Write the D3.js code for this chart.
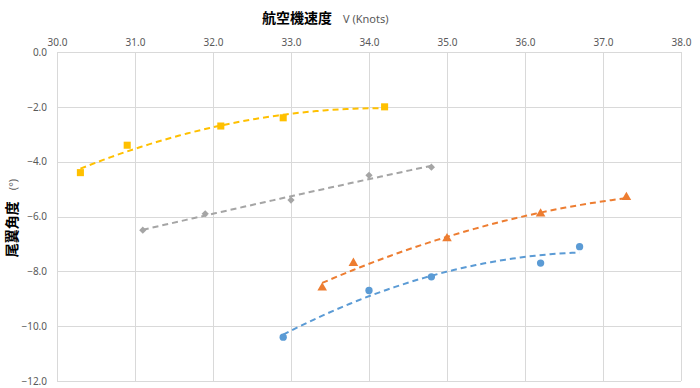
<!DOCTYPE html>
<html>
<head>
<meta charset="utf-8">
<script src="https://cdn.jsdelivr.net/npm/d3@7"></script>
<style>
  body { margin: 0; background: #fff; }
  svg text { font-family: "Noto Sans", "Noto Sans CJK JP", sans-serif; }
</style>
</head>
<body>
<div id="chart"></div>
<script>
'use strict';

// x = aircraft speed (knots), y = tail angle (deg)
const yellowX = [30.3, 30.9, 32.1, 32.9, 34.2];
const yellowY = [-4.4, -3.4, -2.7, -2.4, -2.0];
const grayX = [31.1, 31.9, 33.0, 34.0, 34.8];
const grayY = [-6.5, -5.9, -5.4, -4.5, -4.2];
const orangeX = [33.4, 33.8, 35.0, 36.2, 37.3];
const orangeY = [-8.6, -7.7, -6.8, -5.9, -5.3];
const blueX = [32.9, 34.0, 34.8, 36.2, 36.7];
const blueY = [-10.4, -8.7, -8.2, -7.7, -7.1];

const xTicks = [30, 31, 32, 33, 34, 35, 36, 37, 38];
const yTicks = [0, -2, -4, -6, -8, -10, -12];

const WIDTH = 700;
const HEIGHT = 388;
const margin = {top: 52, right: 19, bottom: 7, left: 57};

const series = [
    {name: 'yellow', xs: yellowX, ys: yellowY, color: '#FFC000', shape: d3.symbolSquare, size: 50, rot: 0},
    {name: 'gray', xs: grayX, ys: grayY, color: '#A5A5A5', shape: d3.symbolSquare, size: 26, rot: 45},
    {name: 'orange', xs: orangeX, ys: orangeY, color: '#ED7D31', shape: d3.symbolTriangle, size: 40, rot: 0},
    {name: 'blue', xs: blueX, ys: blueY, color: '#5B9BD5', shape: d3.symbolCircle, size: 42, rot: 0}
];

const svg = d3.select('#chart').append('svg')
    .attr('width', WIDTH)
    .attr('height', HEIGHT);

const x = d3.scaleLinear().domain([30, 38]).range([margin.left, WIDTH - margin.right]);
const y = d3.scaleLinear().domain([0, -12]).range([margin.top, HEIGHT - margin.bottom]);

/**
 * Least squares fit of order 2, like the spreadsheet's polynomial trendline.
 */
function quadFit(xs, ys) {
    var n = xs.length, s = [0, 0, 0, 0, 0], t = [0, 0, 0];
    for (var i = 0; i < n; i++) {
        for (var k = 0; k < 5; k++) s[k] += Math.pow(xs[i], k);
        for (var k = 0; k < 3; k++) t[k] += ys[i] * Math.pow(xs[i], k);
    }
    var m = [[s[0], s[1], s[2], t[0]], [s[1], s[2], s[3], t[1]], [s[2], s[3], s[4], t[2]]];
    for (var c = 0; c < 3; c++) {
        for (var r = c + 1; r < 3; r++) {
            var f = m[r][c] / m[c][c];
            for (var j = c; j < 4; j++) m[r][j] -= f * m[c][j];
        }
    }
    var b = [0, 0, 0];
    for (var r = 2; r >= 0; r--) {
        var v = m[r][3];
        for (var j = r + 1; j < 3; j++) v -= m[r][j] * b[j];
        b[r] = v / m[r][r];
    }
    return xv => b[0] + b[1] * xv + b[2] * xv * xv;
}

// grid
const grid = svg.append('g').attr('stroke', '#d9d9d9').attr('stroke-width', 1);
grid.selectAll('line.v').data(xTicks).enter().append('line')
    .attr('x1', d => Math.round(x(d)) + 0.5).attr('x2', d => Math.round(x(d)) + 0.5)
    .attr('y1', y(0)).attr('y2', y(-12));
grid.selectAll('line.h').data(yTicks).enter().append('line')
    .attr('y1', d => Math.round(y(d)) + 0.5).attr('y2', d => Math.round(y(d)) + 0.5)
    .attr('x1', x(30)).attr('x2', x(38));

// axes (labels only)
const xAxis = svg.append('g')
    .attr('transform', 'translate(0,' + (margin.top - 6) + ')')
    .call(d3.axisTop(x).tickValues(xTicks).tickFormat(d3.format('.1f')).tickSize(0).tickPadding(0));
const yAxis = svg.append('g')
    .attr('transform', 'translate(' + (margin.left - 10) + ',0)')
    .call(d3.axisLeft(y).tickValues(yTicks).tickFormat(d3.format('.1f')).tickSize(0).tickPadding(0));
[xAxis, yAxis].forEach(a => {
    a.select('.domain').remove();
    a.selectAll('text').attr('fill', '#595959').style('font-size', '10px');
});
yAxis.selectAll('text').attr('dy', '0.32em');

// trendlines
series.forEach(s => {
    var f = quadFit(s.xs, s.ys);
    var lo = d3.min(s.xs), hi = d3.max(s.xs);
    var pts = d3.range(0, 41).map(i => lo + (hi - lo) * i / 40);
    svg.append('path')
        .datum(pts)
        .attr('fill', 'none')
        .attr('stroke', s.color)
        .attr('stroke-width', 2)
        .attr('stroke-dasharray', '6,4')
        .attr('d', d3.line().x(d => x(d)).y(d => y(f(d))));
});

// markers
series.forEach(s => {
    svg.append('g').selectAll('path')
        .data(s.xs.map((v, i) => ({x: v, y: s.ys[i]})))
        .enter().append('path')
        .attr('transform', d => 'translate(' + x(d.x) + ',' + y(d.y) + ') rotate(' + s.rot + ')')
        .attr('d', d3.symbol().type(s.shape).size(s.size))
        .attr('fill', s.color);
});

// titles
const title = svg.append('text')
    .attr('x', 262).attr('y', 23)
    .style('font-size', '14px');
title.append('tspan').text('航空機速度').style('font-weight', 'bold')
    .style('font-family', '"Noto Sans CJK JP"').attr('fill', '#000');
title.append('tspan').text('　V (Knots)').style('font-size', '11px').attr('fill', '#595959');

const yTitle = svg.append('text')
    .attr('transform', 'translate(17,218) rotate(-90)')
    .attr('text-anchor', 'middle')
    .style('font-size', '14px');
yTitle.append('tspan').text('尾翼角度').style('font-weight', 'bold')
    .style('font-family', '"Noto Sans CJK JP"').attr('fill', '#000');
yTitle.append('tspan').text('　(°)').style('font-size', '11px').attr('fill', '#595959');
</script>
</body>
</html>
